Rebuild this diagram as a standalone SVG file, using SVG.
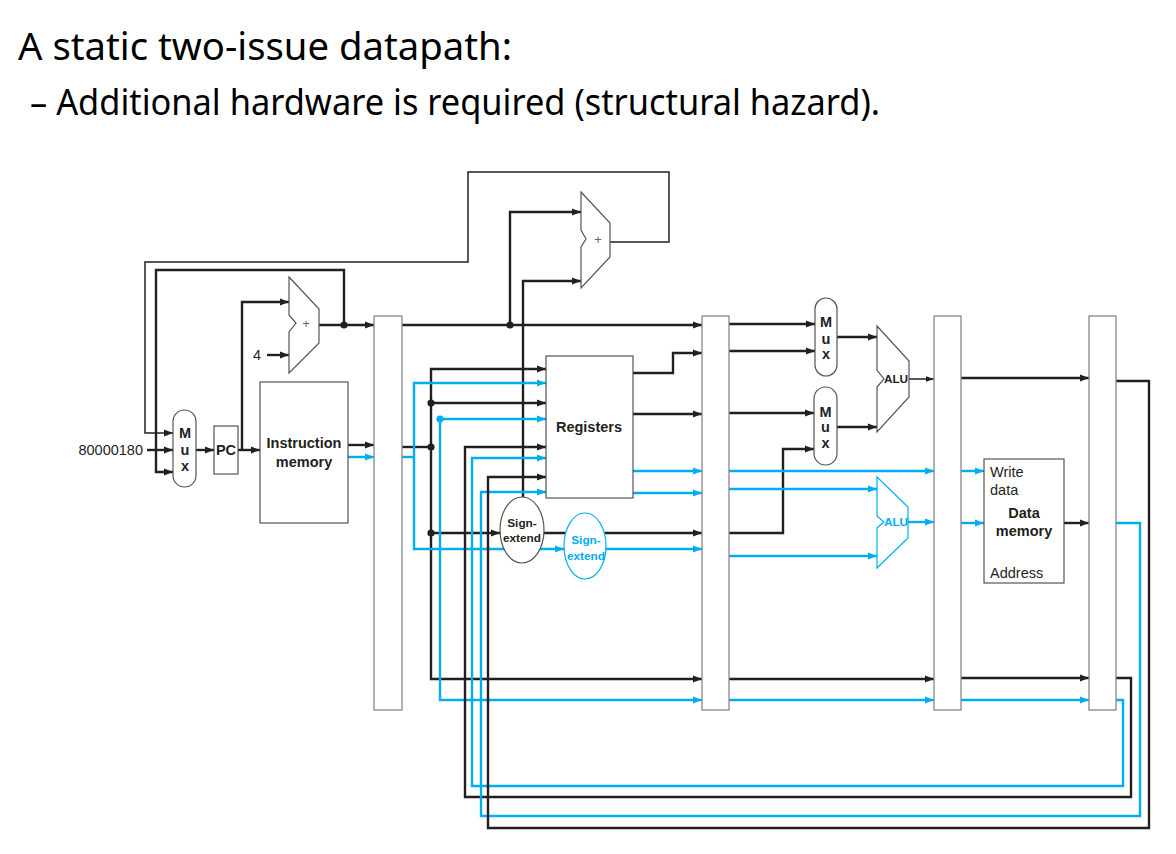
<svg xmlns="http://www.w3.org/2000/svg" width="1176" height="854" viewBox="0 0 1176 854">
<defs>
<style>
.k{fill:none;stroke:#231f20;stroke-width:2.4;stroke-linejoin:miter}
.kt{fill:none;stroke:#231f20;stroke-width:1.5}
.b{fill:none;stroke:#00aeef;stroke-width:2.4;stroke-linejoin:miter}
.box{fill:#fff;stroke:#444;stroke-width:1.1}
.pr{fill:#fff;stroke:#888;stroke-width:1.3}
.unit{fill:#fff;stroke:#555;stroke-width:1.2}
.bunit{fill:#fff;stroke:#00aeef;stroke-width:1.2}
.t{font-family:"Liberation Sans",Arial,sans-serif;font-size:14.5px;fill:#231f20}
.tb{font-family:"Liberation Sans",Arial,sans-serif;font-size:14.5px;font-weight:bold;fill:#231f20}
.ts{font-family:"Liberation Sans",Arial,sans-serif;font-size:11.8px;font-weight:bold;fill:#231f20}
.tsb{font-family:"Liberation Sans",Arial,sans-serif;font-size:11.8px;font-weight:bold;fill:#00aeef}
.plus{font-family:"Liberation Sans",Arial,sans-serif;font-size:13px;fill:#666}
.h{font-family:"Noto Sans","Noto Sans CJK KR",sans-serif;fill:#000}
</style>
<marker id="ak" markerWidth="10" markerHeight="8" refX="9" refY="4" orient="auto-start-reverse" markerUnits="userSpaceOnUse"><path d="M0,0.6 L9,4 L0,7.4 z" fill="#231f20"/></marker>
<marker id="akt" markerWidth="9" markerHeight="7" refX="8" refY="3.5" orient="auto" markerUnits="userSpaceOnUse"><path d="M0,0.8 L8,3.5 L0,6.2 z" fill="#231f20"/></marker>
<marker id="ab" markerWidth="10" markerHeight="8" refX="9" refY="4" orient="auto-start-reverse" markerUnits="userSpaceOnUse"><path d="M0,0.6 L9,4 L0,7.4 z" fill="#00aeef"/></marker>
</defs>
<rect width="1176" height="854" fill="#fff"/>

<g id="heading">
<text class="h" x="18" y="60" font-size="38" textLength="494" lengthAdjust="spacingAndGlyphs">A static two-issue datapath:</text>
<text class="h" x="30" y="115" font-size="36" textLength="850" lengthAdjust="spacingAndGlyphs">– Additional hardware is required (structural hazard).</text>
</g>

<g id="connectors">
<path class="k" d="M147,450 H173" marker-end="url(#ak)"/>
<path class="kt" d="M610,242 H669 V172 H468 V262 H145 V433 H173" marker-end="url(#ak)"/>
<path class="k" d="M344,325 V270 H156 V472 H173" marker-end="url(#ak)"/>
<path class="k" d="M196,450 H214" marker-end="url(#ak)"/>
<path class="k" d="M238,450 H260" marker-end="url(#ak)"/>
<path class="k" d="M242,450 V302 H289" marker-end="url(#ak)"/>
<path class="k" d="M267,355 H289" marker-end="url(#ak)"/>
<path class="k" d="M319,325 H374" marker-end="url(#ak)"/>
<path class="k" d="M348,445 H374" marker-end="url(#ak)"/>
<path class="b" d="M348,457 H374" marker-end="url(#ab)"/>
<path class="k" d="M402,325 H702" marker-end="url(#ak)"/>
<path class="k" d="M510,325 V212 H581" marker-end="url(#ak)"/>
<path class="k" d="M523,498 V281 H581" marker-end="url(#ak)"/>
<path class="k" d="M402,447 H431"/>
<path class="k" d="M702,679 H431 V369 H546" marker-start="url(#ak)" marker-end="url(#ak)"/>
<path class="k" d="M431,403 H546" marker-end="url(#ak)"/>
<path class="k" d="M431,533 H500" marker-end="url(#ak)"/>
<path class="b" d="M402,457 H414"/>
<path class="b" d="M546,383 H414 V549 H564" marker-start="url(#ab)" marker-end="url(#ab)"/>
<path class="b" d="M440,419 H546" marker-end="url(#ab)"/>
<path class="b" d="M440,419 V700 H702" marker-end="url(#ab)"/>
<path class="k" d="M1116,678 H1131 V797 H465 V447 H546" marker-end="url(#ak)"/>
<path class="b" d="M1116,700 H1123 V786 H472 V458 H546" marker-end="url(#ab)"/>
<path class="b" d="M1116,523 H1140 V816 H481 V492 H546" marker-end="url(#ab)"/>
<path class="k" d="M1116,381 H1149 V828 H488 V477 H546" marker-end="url(#ak)"/>
<path class="k" d="M633,373 H673 V353 H702" marker-end="url(#ak)"/>
<path class="k" d="M633,414 H702" marker-end="url(#ak)"/>
<path class="b" d="M633,471 H702" marker-end="url(#ab)"/>
<path class="b" d="M633,493 H702" marker-end="url(#ab)"/>
<path class="k" d="M544,533 H702" marker-end="url(#ak)"/>
<path class="b" d="M606,549 H702" marker-end="url(#ab)"/>
<path class="k" d="M729,324 H815" marker-end="url(#ak)"/>
<path class="k" d="M729,351 H815" marker-end="url(#ak)"/>
<path class="k" d="M729,413 H814" marker-end="url(#ak)"/>
<path class="k" d="M729,533 H783 V449 H814" marker-end="url(#ak)"/>
<path class="k" d="M837,337 H877" marker-end="url(#ak)"/>
<path class="k" d="M837,427 H877" marker-end="url(#ak)"/>
<path class="kt" d="M909,379 H934" marker-end="url(#akt)"/>
<path class="b" d="M729,471 H934" marker-end="url(#ab)"/>
<path class="b" d="M729,489 H877" marker-end="url(#ab)"/>
<path class="b" d="M729,556 H877" marker-end="url(#ab)"/>
<path class="b" d="M908,522 H934" marker-end="url(#ab)"/>
<path class="k" d="M729,679 H934" marker-end="url(#ak)"/>
<path class="b" d="M729,700 H934" marker-end="url(#ab)"/>
<path class="k" d="M961,378 H1089" marker-end="url(#ak)"/>
<path class="b" d="M961,471 H984" marker-end="url(#ab)"/>
<path class="b" d="M961,523 H984" marker-end="url(#ab)"/>
<path class="k" d="M1064,523 H1089" marker-end="url(#ak)"/>
<path class="k" d="M961,678 H1089" marker-end="url(#ak)"/>
<path class="b" d="M961,700 H1089" marker-end="url(#ab)"/>
<circle cx="344" cy="325" r="3.6" fill="#231f20"/>
<circle cx="510" cy="325" r="3.6" fill="#231f20"/>
<circle cx="431" cy="403" r="3.6" fill="#231f20"/>
<circle cx="431" cy="447" r="3.6" fill="#231f20"/>
<circle cx="431" cy="533" r="3.6" fill="#231f20"/>
<circle cx="440" cy="419" r="3.6" fill="#00aeef"/>
</g>

<g id="const-80000180"><text class="t" x="143" y="455" text-anchor="end">80000180</text></g>
<g id="const-4"><text class="t" x="253" y="360">4</text></g>

<g id="pc-mux">
<rect class="unit" x="173" y="410" width="23" height="77" rx="11.5"/>
<text class="tb" x="185" y="438" text-anchor="middle">M</text>
<text class="tb" x="185" y="455" text-anchor="middle">u</text>
<text class="tb" x="185" y="471" text-anchor="middle">x</text>
</g>
<g id="pc">
<rect class="box" x="214" y="426" width="24" height="48"/>
<text class="tb" x="226" y="455" text-anchor="middle">PC</text>
</g>
<g id="pc-adder">
<path class="unit" d="M289,277 L319,309 L319,343 L289,373 L289,332 L296,323 L289,315 Z"/>
<text class="plus" x="306" y="328" text-anchor="middle">+</text>
</g>
<g id="instruction-memory">
<rect class="box" x="260" y="382" width="88" height="141"/>
<text class="tb" x="304" y="448" text-anchor="middle">Instruction</text>
<text class="tb" x="304" y="467" text-anchor="middle">memory</text>
</g>
<g id="if-id"><rect class="pr" x="374" y="316" width="28" height="394"/></g>
<g id="branch-adder">
<path class="unit" d="M581,192 L610,223 L610,257 L581,288 L581,247 L586,239 L581,230 Z"/>
<text class="plus" x="598" y="244" text-anchor="middle">+</text>
</g>
<g id="registers">
<rect class="box" x="546" y="356" width="87" height="142"/>
<text class="tb" x="589" y="432" text-anchor="middle">Registers</text>
</g>
<g id="sign-extend">
<ellipse class="unit" cx="522" cy="530" rx="22" ry="33"/>
<text class="ts" x="522" y="527" text-anchor="middle">Sign-</text>
<text class="ts" x="522" y="542" text-anchor="middle">extend</text>
</g>
<g id="sign-extend-2">
<ellipse class="bunit" cx="585" cy="546" rx="21" ry="33"/>
<text class="tsb" x="586" y="544" text-anchor="middle">Sign-</text>
<text class="tsb" x="586" y="560" text-anchor="middle">extend</text>
</g>
<g id="id-ex"><rect class="pr" x="702" y="316" width="27" height="394"/></g>
<g id="alu-mux-a">
<rect class="unit" x="815" y="298" width="22" height="78" rx="11"/>
<text class="tb" x="826" y="327" text-anchor="middle">M</text>
<text class="tb" x="826" y="344" text-anchor="middle">u</text>
<text class="tb" x="826" y="359" text-anchor="middle">x</text>
</g>
<g id="alu-mux-b">
<rect class="unit" x="814" y="387" width="23" height="78" rx="11.5"/>
<text class="tb" x="825.5" y="417" text-anchor="middle">M</text>
<text class="tb" x="825.5" y="432" text-anchor="middle">u</text>
<text class="tb" x="825.5" y="448" text-anchor="middle">x</text>
</g>
<g id="alu">
<path class="unit" d="M877,326 L909,361 L909,397 L877,432 L877,387 L884,379 L877,370 Z"/>
<text class="ts" x="896" y="383" text-anchor="middle">ALU</text>
</g>
<g id="alu-2">
<path class="bunit" d="M877,477 L908,507 L908,538 L877,568 L877,528 L884,522 L877,516 Z"/>
<text class="tsb" x="896" y="526" text-anchor="middle">ALU</text>
</g>
<g id="ex-mem"><rect class="pr" x="934" y="316" width="27" height="394"/></g>
<g id="data-memory">
<rect class="box" x="984" y="459" width="80" height="124"/>
<text class="t" x="990" y="477">Write</text>
<text class="t" x="990" y="495">data</text>
<text class="tb" x="1024" y="518" text-anchor="middle">Data</text>
<text class="tb" x="1024" y="536" text-anchor="middle">memory</text>
<text class="t" x="990" y="578">Address</text>
</g>
<g id="mem-wb"><rect class="pr" x="1089" y="316" width="27" height="394"/></g>
</svg>
